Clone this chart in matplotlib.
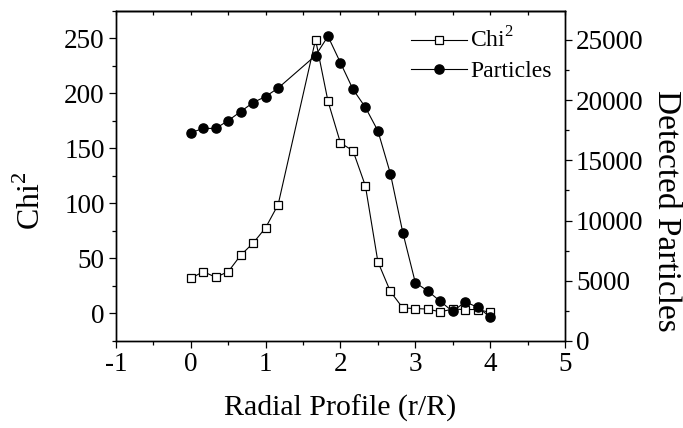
import matplotlib
matplotlib.use("Agg")
import matplotlib.pyplot as plt
from matplotlib.ticker import MultipleLocator

# radial positions (r/R)
radius = [0.0, 0.167, 0.333, 0.5, 0.667, 0.833, 1.0, 1.167,
          1.667, 1.833, 2.0, 2.167, 2.333, 2.5, 2.667, 2.833,
          3.0, 3.167, 3.333, 3.5, 3.667, 3.833, 4.0]

chi2 = [32, 38, 33, 38, 53, 64, 78, 99,
        249, 193, 155, 148, 116, 47, 20, 5,
        4.5, 4, 1.5, 4, 3.6, 3.6, 1]

particles = [17300, 17650, 17650, 18300, 19050, 19800, 20300, 21000,
             23700, 25300, 23100, 20900, 19400, 17450, 13900, 9000,
             4850, 4150, 3300, 2450, 3250, 2800, 2000]

plt.rcParams['font.family'] = ['Liberation Serif', 'DejaVu Serif']
plt.rcParams['mathtext.fontset'] = 'custom'
plt.rcParams['mathtext.rm'] = 'Liberation Serif'
plt.rcParams['axes.unicode_minus'] = False
plt.rcParams['axes.linewidth'] = 1.0

fig = plt.figure(figsize=(6.83, 4.28), dpi=100)
ax1 = fig.add_axes([0.1698, 0.2033, 0.6574, 0.7710])
ax2 = ax1.twinx()

l1, = ax1.plot(radius, chi2, color='black', lw=0.8, marker='s', ms=5.2,
               mfc='white', mec='black', mew=0.9, label='Chi$^2$')
l2, = ax2.plot(radius, particles, color='black', lw=0.8, marker='o', ms=6.6,
               mfc='black', mec='black', label='Particles')

ax1.set_xlim(-1, 5)
ax1.set_ylim(-25, 275)
ax2.set_ylim(0, 27400)

ax1.xaxis.set_major_locator(MultipleLocator(1))
ax1.xaxis.set_minor_locator(MultipleLocator(0.5))
ax1.yaxis.set_major_locator(MultipleLocator(50))
ax1.yaxis.set_minor_locator(MultipleLocator(25))
ax2.yaxis.set_major_locator(MultipleLocator(5000))
ax2.yaxis.set_minor_locator(MultipleLocator(2500))

for ax in (ax1, ax2):
    ax.tick_params(which='major', direction='out', length=5, width=0.9,
                   labelsize=19.5, pad=3)
    ax.tick_params(which='minor', direction='out', length=3, width=0.9)

# top axis: inward ticks, no labels
top = ax1.secondary_xaxis('top')
top.xaxis.set_major_locator(MultipleLocator(0.5))
top.tick_params(direction='in', length=3, width=0.9, labeltop=False)

ax1.set_xlabel('Radial Profile (r/R)', fontsize=21.5)
ax1.set_ylabel('Chi$^2$', fontsize=23)
ax2.set_ylabel('Detected Particles', fontsize=24, rotation=270, va='bottom')
ax1.xaxis.set_label_coords(0.5, -0.164)
ax1.yaxis.set_label_coords(-0.154, 0.424)
ax2.yaxis.set_label_coords(1.1915, 0.395)

ax2.legend([l1, l2], ['Chi$^2$', 'Particles'], loc='upper left',
           bbox_to_anchor=(0.657, 0.95), frameon=False, fontsize=17,
           handlelength=2.37, handletextpad=0.15, labelspacing=0.34,
           borderaxespad=0, borderpad=0)

fig.savefig('out.png', dpi=100)
